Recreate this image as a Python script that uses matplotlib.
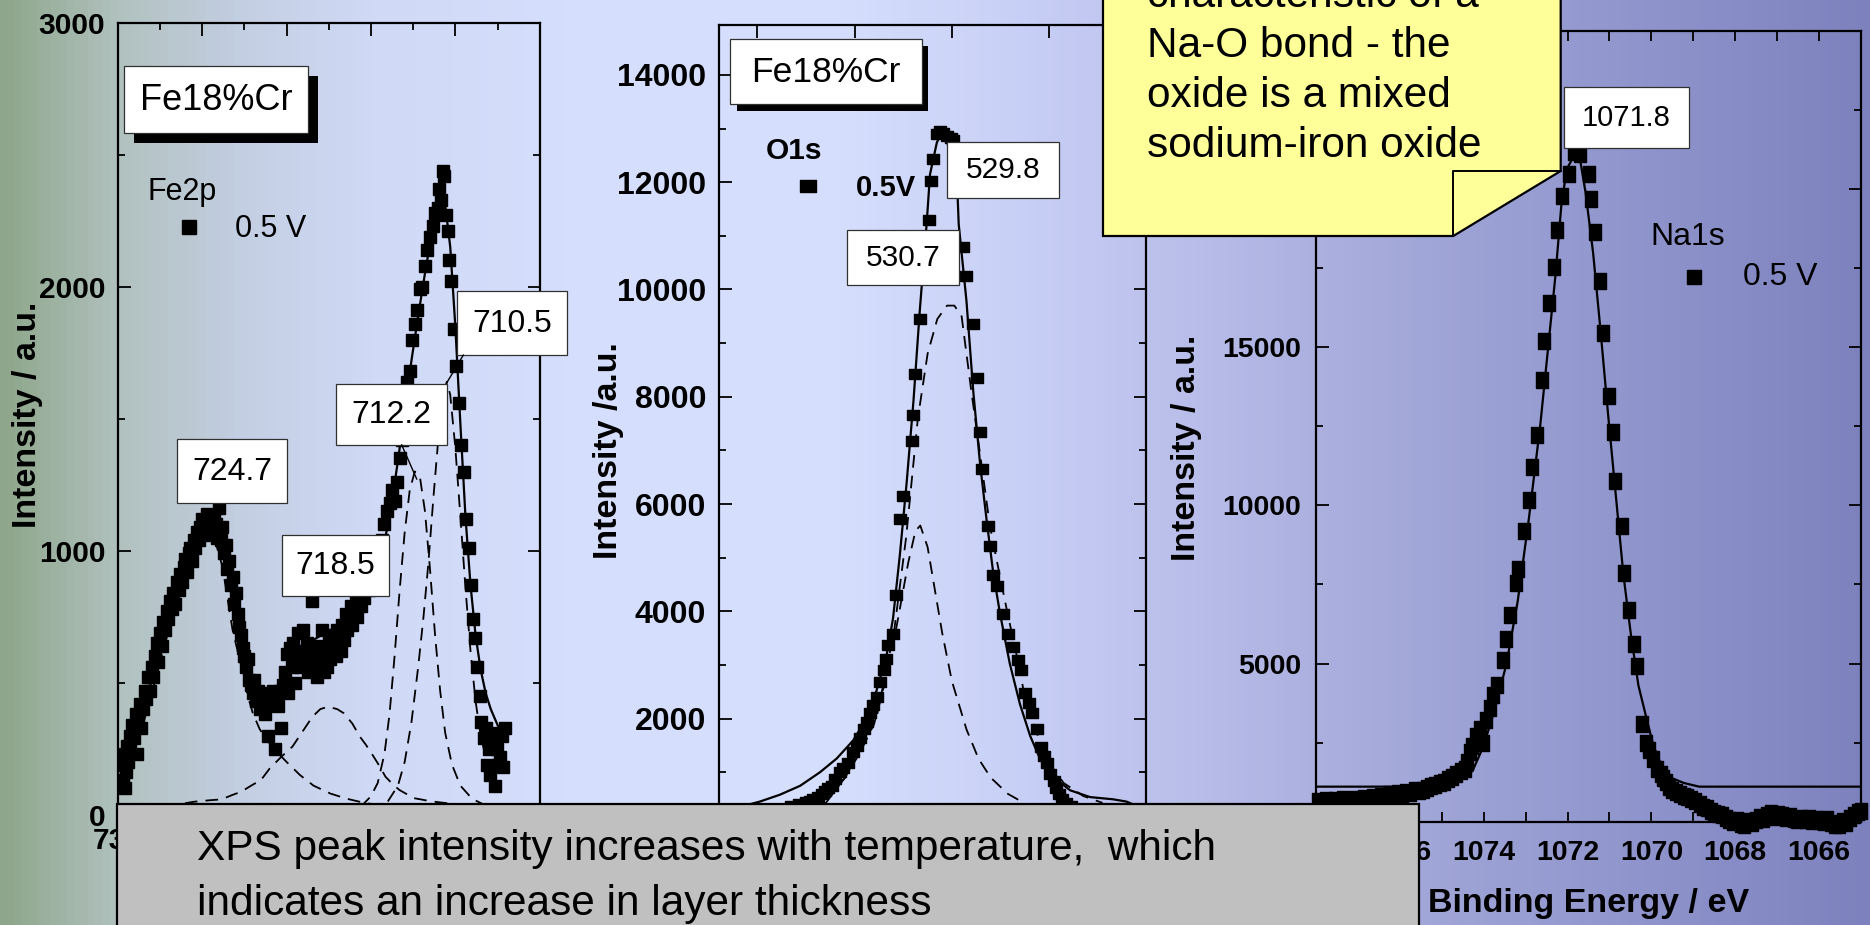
"""
XPS spectra of Fe18%Cr polarised at 0.5 V: Fe2p, O1s and Na1s regions.
"""


# %% ---- Requirements and constants

import numpy as np
import matplotlib
matplotlib.use("Agg")
import matplotlib.pyplot as plt
from matplotlib.colors import LinearSegmentedColormap
from matplotlib.patches import Rectangle, Polygon
from matplotlib.ticker import MultipleLocator

plt.rcParams["font.family"] = ["Liberation Sans", "DejaVu Sans"]

W, H = 1870, 925  # canvas in pixels

# Fe2p region: binding energy (eV), intensity (a.u.)
fe2p_points = np.array([
    [729.70, 130], [729.65, 190], [729.60, 100], [729.55, 230], [729.50, 160],
    [729.45, 260], [729.40, 200], [729.30, 300], [729.25, 240], [729.15, 340],
    [729.05, 290], [728.95, 380], [728.85, 230], [728.80, 350], [728.70, 420],
    [728.60, 330], [728.50, 400], [728.40, 470], [728.30, 440], [728.20, 520],
    [728.10, 470], [728.00, 560], [727.90, 520], [727.80, 600], [727.70, 650],
    [727.60, 580], [727.50, 690], [727.40, 640], [727.30, 730], [727.20, 700],
    [727.10, 770], [727.00, 740], [726.90, 810], [726.80, 780], [726.70, 840],
    [726.60, 800], [726.50, 880], [726.40, 850], [726.30, 910], [726.20, 880],
    [726.10, 940], [726.00, 970], [725.90, 920], [725.80, 990], [725.70, 1010],
    [725.60, 960], [725.50, 1040], [725.40, 1010], [725.30, 1070], [725.20, 1040],
    [725.10, 1090], [725.00, 1120], [724.90, 1060], [724.80, 1100], [724.70, 1140],
    [724.60, 1090], [724.50, 1120], [724.40, 1070], [724.30, 1130], [724.20, 1100],
    [724.10, 1050], [724.00, 1160], [723.90, 1040], [723.80, 1090], [723.70, 990],
    [723.60, 1020], [723.50, 930], [723.40, 960], [723.30, 870], [723.20, 900],
    [723.10, 800], [723.00, 840], [722.90, 760], [722.80, 710], [722.70, 680],
    [722.60, 630], [722.50, 600], [722.40, 560], [722.30, 590], [722.20, 510],
    [722.10, 490], [722.00, 460], [721.90, 510], [721.80, 430], [721.70, 470],
    [721.60, 400], [721.50, 450], [721.40, 420], [721.30, 380], [721.20, 460],
    [721.10, 300], [721.00, 440], [720.90, 420], [720.80, 470], [720.70, 250],
    [720.60, 450], [720.50, 410], [720.40, 470], [720.30, 330], [720.20, 490],
    [720.10, 540], [720.00, 610], [719.90, 460], [719.80, 630], [719.70, 560],
    [719.60, 650], [719.50, 500], [719.40, 600], [719.30, 690], [719.20, 560],
    [719.10, 620], [719.00, 700], [718.90, 580], [718.80, 650], [718.70, 540],
    [718.60, 620], [718.50, 810], [718.40, 560], [718.30, 600], [718.20, 520],
    [718.10, 640], [718.00, 580], [717.90, 700], [717.80, 540], [717.70, 620],
    [717.60, 560], [717.50, 660], [717.40, 590], [717.30, 640], [717.20, 680],
    [717.10, 600], [717.00, 700], [716.90, 650], [716.80, 620], [716.70, 720],
    [716.60, 660], [716.50, 760], [716.40, 700], [716.30, 740], [716.20, 790],
    [716.10, 720], [716.00, 770], [715.90, 810], [715.80, 750], [715.70, 830],
    [715.60, 790], [715.50, 860], [715.40, 820], [715.30, 880], [715.20, 900],
    [715.10, 850], [715.00, 920], [714.90, 880], [714.80, 950], [714.65, 990],
    [714.50, 1000], [714.35, 1040], [714.20, 1100], [714.05, 1150], [713.90, 1180],
    [713.75, 1230], [713.60, 1190], [713.45, 1260], [713.30, 1350], [713.15, 1420],
    [713.00, 1560], [712.85, 1640], [712.70, 1680], [712.55, 1800], [712.40, 1860],
    [712.25, 1910], [712.10, 1990], [711.95, 2000], [711.80, 2080], [711.65, 2140],
    [711.50, 2190], [711.35, 2230], [711.20, 2280], [711.05, 2300], [710.95, 2370],
    [710.85, 2330], [710.75, 2440], [710.65, 2420], [710.55, 2270], [710.45, 2210],
    [710.35, 2100], [710.25, 2020], [710.10, 1840], [709.95, 1700], [709.80, 1560],
    [709.65, 1400], [709.50, 1300], [709.35, 1120], [709.20, 1010], [709.05, 870],
    [708.95, 740], [708.85, 670], [708.70, 560], [708.55, 450], [708.45, 350],
    [708.30, 290], [708.20, 330], [708.10, 190], [708.00, 250], [707.95, 150],
    [707.85, 310], [707.75, 280], [707.65, 110], [707.55, 250], [707.45, 190],
    [707.35, 220], [707.25, 300], [707.15, 180], [707.05, 330],
])

fe2p_fit = np.array([
    [729.75, 150], [729.2, 250], [728.7, 350], [728.2, 460], [727.7, 580],
    [727.2, 700], [726.7, 810], [726.2, 910], [725.7, 990], [725.2, 1060],
    [724.8, 1095], [724.5, 1105], [724.2, 1085], [723.8, 1010], [723.4, 900],
    [723.0, 780], [722.6, 650], [722.2, 540], [721.8, 470], [721.4, 440],
    [721.0, 440], [720.6, 465], [720.2, 510], [719.8, 555], [719.4, 595],
    [719.0, 630], [718.6, 655], [718.2, 670], [717.8, 685], [717.4, 700],
    [717.0, 715], [716.6, 730], [716.2, 750], [715.8, 775], [715.4, 805],
    [715.0, 850], [714.6, 920], [714.2, 1030], [713.8, 1170], [713.4, 1340],
    [713.0, 1530], [712.6, 1720], [712.2, 1890], [711.8, 2050], [711.4, 2200],
    [711.1, 2300], [710.85, 2350], [710.6, 2310], [710.3, 2150], [710.0, 1850],
    [709.7, 1480], [709.4, 1130], [709.1, 870], [708.8, 680], [708.5, 550],
    [708.2, 460], [707.9, 400], [707.5, 340], [707.1, 290],
])

fe2p_peak_7247 = np.array([
    [729.75, 110], [729.2, 210], [728.7, 300], [728.2, 410], [727.7, 530],
    [727.2, 650], [726.7, 760], [726.2, 860], [725.7, 940], [725.2, 1010],
    [724.8, 1045], [724.5, 1050], [724.2, 1030], [723.8, 940], [723.5, 820],
    [723.2, 700], [722.9, 620], [722.6, 540], [722.3, 450], [722.0, 385],
    [721.6, 325], [721.2, 285], [720.6, 240], [720.0, 200], [719.2, 150],
    [718.4, 110], [717.4, 80], [716.4, 60], [715.4, 45], [714.4, 35],
])

fe2p_peak_7185 = np.array([
    [729.7, 25], [728.0, 30], [726.5, 38], [725.5, 49], [724.5, 55],
    [723.86, 58], [723.2, 75], [722.69, 87], [722.1, 110], [721.52, 131],
    [721.0, 175], [720.3, 220], [719.65, 258], [719.0, 320], [718.47, 371],
    [718.0, 400], [717.54, 409], [717.0, 400], [716.6, 384], [716.1, 345],
    [715.66, 296], [715.3, 265], [714.96, 232], [714.5, 185], [714.14, 144],
    [713.7, 115], [713.32, 94], [712.8, 75], [712.39, 62], [711.8, 55],
    [711.21, 49], [710.0, 40], [708.5, 30], [707.0, 25],
])

fe2p_peak_7122 = np.array([
    [715.6, 30], [715.0, 70], [714.6, 120], [714.2, 230], [713.9, 380],
    [713.6, 600], [713.3, 850], [713.0, 1070], [712.7, 1230], [712.4, 1300],
    [712.1, 1280], [711.8, 1150], [711.5, 930], [711.2, 680], [710.9, 470],
    [710.6, 310], [710.2, 190], [709.7, 110], [709.0, 60], [708.2, 35],
    [707.2, 20],
])

fe2p_peak_7105 = np.array([
    [714.0, 50], [713.4, 110], [713.0, 200], [712.6, 350], [712.2, 560],
    [711.9, 740], [711.6, 950], [711.3, 1200], [711.0, 1430], [710.7, 1600],
    [710.5, 1640], [710.3, 1590], [710.0, 1390], [709.7, 1130], [709.4, 860],
    [709.1, 620], [708.8, 430], [708.5, 300], [708.1, 190], [707.6, 110],
    [707.1, 70],
])

# O1s region
o1s_points = np.array([
    [533.30, 380], [533.15, 410], [533.00, 440], [532.92, 470], [532.85, 500],
    [532.75, 540], [532.68, 600], [532.61, 660], [532.54, 700], [532.47, 750],
    [532.40, 880], [532.30, 1000], [532.23, 1090], [532.13, 1170], [532.03, 1380],
    [531.95, 1500], [531.89, 1640], [531.80, 1800], [531.75, 1930], [531.69, 2100],
    [531.62, 2250], [531.55, 2400], [531.47, 2690], [531.40, 2900], [531.36, 3110],
    [531.31, 3370], [531.21, 3580], [531.14, 4300], [531.07, 5730], [531.00, 6150],
    [530.83, 7170], [530.80, 7670], [530.76, 8430], [530.66, 9450], [530.55, 10600],
    [530.48, 11300], [530.42, 12020], [530.38, 12440], [530.31, 12900], [530.25, 12950],
    [530.18, 12920], [530.10, 12870], [530.02, 12820], [529.97, 12780], [529.88, 12000],
    [529.77, 10800], [529.70, 10250], [529.56, 9360], [529.49, 8350], [529.42, 7340],
    [529.39, 6660], [529.25, 5600], [529.22, 5220], [529.15, 4680], [529.08, 4470],
    [528.94, 3960], [528.84, 3580], [528.74, 3330], [528.65, 3100], [528.57, 2900],
    [528.50, 2480], [528.42, 2300], [528.36, 2100], [528.26, 1810], [528.16, 1470],
    [528.10, 1300], [528.05, 1170], [527.98, 960], [527.90, 830], [527.85, 710],
    [527.80, 600], [527.74, 500], [527.65, 420], [527.55, 380],
])

o1s_fit = np.array([
    [534.8, 250], [533.95, 455], [533.54, 582], [533.12, 750], [532.71, 1004],
    [532.37, 1257], [532.03, 1595], [531.75, 2017], [531.55, 2523], [531.34, 3198],
    [531.21, 3874], [531.07, 5056], [530.93, 6406], [530.79, 7926], [530.66, 9614],
    [530.52, 11218], [530.45, 12147], [530.31, 12738], [530.18, 12991], [530.01, 12865],
    [529.90, 12147], [529.86, 11218], [529.70, 9783], [529.56, 8095], [529.42, 6744],
    [529.29, 5731], [529.15, 4718], [529.01, 3958], [528.81, 3029], [528.60, 2270],
    [528.39, 1679], [528.19, 1257], [527.92, 919], [527.57, 666], [527.16, 539],
    [526.68, 497], [526.41, 455], [526.0, 300],
])

o1s_peak_5307 = np.array([
    [532.6, 500], [532.2, 900], [531.9, 1350], [531.6, 1900], [531.3, 2950],
    [531.1, 3900], [530.9, 4900], [530.75, 5500], [530.65, 5600], [530.5, 5200],
    [530.35, 4400], [530.2, 3600], [530.0, 2700], [529.7, 1800], [529.45, 1250],
    [529.2, 900], [528.85, 600], [528.5, 420],
])

o1s_peak_5298 = np.array([
    [532.6, 420], [532.2, 900], [531.9, 1400], [531.54, 2060], [531.19, 3620],
    [530.94, 5390], [530.7, 7600], [530.5, 8800], [530.3, 9450], [530.1, 9700],
    [529.95, 9700], [529.8, 9500], [529.6, 8100], [529.4, 6800], [529.22, 5600],
    [529.0, 4600], [528.85, 3940], [528.6, 2900], [528.48, 2280], [528.2, 1600],
    [528.0, 1170], [527.7, 800], [527.3, 560], [526.9, 430],
])

# Na1s region
na1s_points = np.array([
    [1077.95, 640], [1077.85, 600], [1077.75, 680], [1077.65, 620], [1077.55, 700],
    [1077.45, 650], [1077.35, 720], [1077.25, 680], [1077.15, 600], [1077.05, 720],
    [1076.95, 690], [1076.85, 760], [1076.75, 700], [1076.65, 790], [1076.55, 740],
    [1076.45, 820], [1076.35, 780], [1076.25, 860], [1076.15, 830], [1076.05, 900],
    [1075.95, 870], [1075.85, 940], [1075.75, 910], [1075.65, 990], [1075.55, 960],
    [1075.45, 1010], [1075.35, 1060], [1075.25, 1120], [1075.15, 1150], [1075.05, 1220],
    [1074.95, 1270], [1074.85, 1350], [1074.75, 1420], [1074.65, 1520], [1074.55, 1600],
    [1074.45, 1670], [1074.40, 1900], [1074.32, 2200], [1074.27, 2400], [1074.18, 2700],
    [1074.09, 2920], [1074.02, 2500], [1073.95, 3210], [1073.86, 3580], [1073.77, 4020],
    [1073.68, 4310], [1073.55, 5120], [1073.46, 5780], [1073.37, 6520], [1073.23, 7550],
    [1073.19, 7990], [1073.03, 9190], [1072.92, 10160], [1072.85, 11220], [1072.74, 12220],
    [1072.62, 13970], [1072.56, 15190], [1072.45, 16400], [1072.33, 17540], [1072.24, 18720],
    [1072.13, 19780], [1071.97, 20480], [1071.84, 21190], [1071.70, 21100], [1071.50, 20480],
    [1071.43, 19680], [1071.34, 18650], [1071.23, 17100], [1071.16, 15440], [1071.01, 13460],
    [1070.92, 12320], [1070.86, 10780], [1070.71, 9360], [1070.65, 7870], [1070.53, 6690],
    [1070.41, 5610], [1070.35, 4930], [1070.23, 3090], [1070.14, 2480], [1070.05, 2260],
    [1069.95, 1990], [1069.86, 1670], [1069.78, 1500], [1069.72, 1370], [1069.65, 1250],
    [1069.59, 1110], [1069.50, 1000], [1069.41, 930], [1069.32, 870], [1069.23, 820],
    [1069.14, 790], [1069.05, 720], [1068.95, 670], [1068.85, 560], [1068.77, 480],
    [1068.68, 420], [1068.58, 330], [1068.50, 260], [1068.41, 230], [1068.32, 200],
    [1068.23, 120], [1068.14, 60], [1068.05, -20], [1067.95, 40], [1067.86, -60],
    [1067.78, -100], [1067.69, 20], [1067.60, -40], [1067.51, 50], [1067.42, 150],
    [1067.33, 80], [1067.24, 200], [1067.15, 270], [1067.06, 160], [1066.97, 230],
    [1066.88, 200], [1066.79, 120], [1066.70, 180], [1066.61, 90], [1066.52, 50],
    [1066.43, 130], [1066.34, 60], [1066.25, 120], [1066.16, 30], [1066.07, 90],
    [1065.98, 10], [1065.89, -20], [1065.80, 70], [1065.71, -50], [1065.62, -100],
    [1065.53, -90], [1065.44, 20], [1065.35, -30], [1065.26, 120], [1065.17, 200],
    [1065.08, 300], [1065.00, 340],
])

na1s_fit = np.array([
    [1078.0, 1108], [1075.53, 1108], [1075.08, 1226], [1074.63, 1373], [1074.27, 1594],
    [1074.0, 2402], [1073.73, 3578], [1073.46, 4975], [1073.19, 6959], [1072.92, 9605],
    [1072.65, 12545], [1072.47, 14897], [1072.29, 17249], [1072.15, 19454], [1072.02, 20630],
    [1071.84, 21071], [1071.70, 20924], [1071.57, 19895], [1071.39, 17984], [1071.21, 15485],
    [1071.03, 12839], [1070.85, 10340], [1070.67, 7841], [1070.49, 5930], [1070.31, 4313],
    [1070.12, 3284], [1069.95, 2402], [1069.77, 1814], [1069.50, 1373], [1069.23, 1226],
    [1068.86, 1108], [1065.0, 1108],
])


# %% ---- Function and class

def px_rect(left, top, right, bottom):
    """Pixel box (origin top-left) -> figure fraction rect."""
    return [left / W, 1 - bottom / H, (right - left) / W, (bottom - top) / H]


def add_panel(fig, rect, xlim, ylim):
    ax = fig.add_axes(px_rect(*rect), zorder=1)
    ax.set_facecolor("none")
    ax.set_xlim(*xlim)
    ax.set_ylim(*ylim)
    for s in ax.spines.values():
        s.set_linewidth(1.6)
    ax.tick_params(which="both", direction="in", top=True, right=True, width=1.3)
    ax.tick_params(which="major", length=9)
    ax.tick_params(which="minor", length=5)
    return ax


def set_ticks(ax, xt, xminor, yt, yminor, size, xpad, ypad, xshow=None, yshow=None):
    """Bold tick labels; xshow / yshow keep only the labels left uncovered."""
    xlab = [f"{v:g}" if xshow is None or v in xshow else "" for v in xt]
    ylab = [f"{v:g}" if yshow is None or v in yshow else "" for v in yt]
    ax.set_xticks(xt)
    ax.set_xticklabels(xlab, fontsize=size, fontweight="bold")
    ax.set_yticks(yt)
    ax.set_yticklabels(ylab, fontsize=size, fontweight="bold")
    if xminor:
        ax.xaxis.set_minor_locator(MultipleLocator(xminor))
    ax.yaxis.set_minor_locator(MultipleLocator(yminor))
    ax.tick_params(axis="x", which="both", pad=xpad)
    ax.tick_params(axis="y", which="both", pad=ypad)


def set_ylabel(ax, text, fx, fy):
    ax.set_ylabel(text, fontsize=24.5, fontweight="bold")
    ax.yaxis.label.set_verticalalignment("center")
    ax.yaxis.set_label_coords(fx, fy)


def label_box(ov, left, top, right, bottom, text, size, shadow=0, base=8.5):
    if shadow:
        ov.add_patch(Rectangle((left + shadow, top + shadow), right - left,
                               bottom - top, fc="black", ec="none"))
    ov.add_patch(Rectangle((left, top), right - left, bottom - top,
                           fc="white", ec="#303030", lw=0.9))
    ov.text((left + right) / 2, (top + bottom) / 2 + base, text,
            ha="center", va="baseline", fontsize=size)


dash = (0, (7, 4.5))
rect_wide = [(-0.6, -0.5), (0.6, -0.5), (0.6, 0.5), (-0.6, 0.5), (-0.6, -0.5)]
rect_tall = [(-0.42, -0.5), (0.42, -0.5), (0.42, 0.5), (-0.42, 0.5), (-0.42, -0.5)]


# %% ---- Play ground

fig = plt.figure(figsize=(W / 100, H / 100), dpi=100)

# slide background, sage green on the left fading to light blue then violet
bg_cmap = LinearSegmentedColormap.from_list("slide", [
    (0.00, "#8ea68b"), (0.064, "#b2c2c0"), (0.13, "#c4cfe4"), (0.20, "#d0d9f5"),
    (0.30, "#d5defc"), (0.45, "#d5defc"), (0.55, "#c8cff6"), (0.62, "#bcc1ec"),
    (0.70, "#acb1e0"), (0.80, "#9ba0d4"), (0.90, "#8c91ca"), (1.00, "#7d82be"),
])
bg = fig.add_axes([0, 0, 1, 1], zorder=-10)
bg.imshow(np.linspace(0, 1, 512)[None, :], cmap=bg_cmap, aspect="auto",
          extent=[0, 1, 0, 1])
bg.axis("off")

# Fe2p
ax1 = add_panel(fig, (117.8, 22.7, 539.7, 814.7), (730, 705), (0, 3000))
set_ticks(ax1, [730, 725, 720, 715, 710, 705], 2.5, [0, 1000, 2000, 3000], 500,
          21.5, 8.6, 9.0, xshow=[730])
set_ylabel(ax1, "Intensity / a.u.", -0.2136, 0.5047)
for comp in (fe2p_peak_7247, fe2p_peak_7185, fe2p_peak_7122, fe2p_peak_7105):
    ax1.plot(comp[:, 0], comp[:, 1], color="black", lw=1.3, ls=dash)
ax1.plot(fe2p_fit[:, 0], fe2p_fit[:, 1], color="black", lw=1.6)
ax1.plot(fe2p_points[:, 0], fe2p_points[:, 1], ls="none", marker="s", ms=8,
         color="black")

# O1s
ax2 = add_panel(fig, (718.5, 25, 1146.4, 826), (534.8, 526.0), (0, 14930))
set_ticks(ax2, [534, 532, 530, 528, 526], None, list(range(0, 14001, 2000)), 1000,
          23, 9.0, 8.8, xshow=[], yshow=list(range(2000, 14001, 2000)))
set_ylabel(ax2, "Intensity /a.u.", -0.257, 0.4688)
for comp in (o1s_peak_5307, o1s_peak_5298):
    ax2.plot(comp[:, 0], comp[:, 1], color="black", lw=1.3, ls=dash)
ax2.plot(o1s_fit[:, 0], o1s_fit[:, 1], color="black", lw=1.6)
ax2.plot(o1s_points[:, 0], o1s_points[:, 1], ls="none", marker=rect_wide, ms=8.8,
         color="black")

# Na1s
ax3 = add_panel(fig, (1316, 31, 1861, 821.7), (1078, 1065), (0, 25000))
set_ticks(ax3, list(range(1078, 1065, -2)), 1, list(range(0, 25001, 5000)), 2500,
          20.5, 13.0, 10.8, xshow=list(range(1076, 1065, -2)),
          yshow=[5000, 10000, 15000])
ax3.tick_params(axis="x", which="both", length=7)
set_ylabel(ax3, "Intensity / a.u.", -0.2385, 0.4733)
ax3.set_xlabel("Binding Energy / eV", fontsize=24.5, fontweight="bold")
ax3.xaxis.label.set_verticalalignment("center")
ax3.xaxis.set_label_coords(0.5, -0.103)
ax3.plot(na1s_fit[:, 0], na1s_fit[:, 1], color="black", lw=1.6)
ax3.plot(na1s_points[:, 0], na1s_points[:, 1], ls="none", marker=rect_tall, ms=11,
         color="black", clip_on=False)

# overlay in pixel coordinates: labels, legends, note and caption
ov = fig.add_axes([0, 0, 1, 1], zorder=10)
ov.set_xlim(0, W)
ov.set_ylim(H, 0)
ov.axis("off")

label_box(ov, 123.8, 65.7, 308.4, 133.3, "Fe18%Cr", 26, shadow=10, base=10)
label_box(ov, 730.4, 39, 921.8, 104, "Fe18%Cr", 25.5, shadow=6.5, base=10)

ov.plot([446.7, 463.3], [382.9, 355.1], color="black", lw=1.0)
ov.plot([401.7, 416.7], [444.9, 479.0], color="black", lw=1.0)
label_box(ov, 176.7, 439, 287.3, 503.3, "724.7", 23)
label_box(ov, 281.5, 535, 388.7, 596, "718.5", 23)
label_box(ov, 336, 383.8, 447.3, 444.9, "712.2", 23)
label_box(ov, 456.7, 291, 567.4, 355, "710.5", 23)
label_box(ov, 946.6, 141.7, 1059, 198.3, "529.8", 21.5)
label_box(ov, 846.7, 230, 958.9, 285, "530.7", 21.5)
label_box(ov, 1564, 87, 1689, 148, "1071.8", 21)

# legends
ov.text(148, 200, "Fe2p", fontsize=22, va="baseline")
ov.plot([189], [226.5], marker="s", ms=10.5, color="black")
ov.text(235, 237.3, "0.5 V", fontsize=22, va="baseline")

ov.text(765.6, 159.3, "O1s", fontsize=21.5, fontweight="bold", va="baseline")
ov.plot([807.5], [186.3], marker=rect_wide, ms=11, color="black")
ov.text(856, 196, "0.5V", fontsize=21, fontweight="bold", va="baseline")

ov.text(1650, 245, "Na1s", fontsize=23, va="baseline")
ov.plot([1693.5], [276.7], marker="s", ms=10.5, color="black")
ov.text(1743, 285, "0.5 V", fontsize=23, va="baseline")

# yellow note with folded corner
ov.add_patch(Polygon([(1103, -50), (1560.7, -50), (1560.7, 171), (1453.3, 236),
                      (1103, 236)], closed=True, fc="#ffff99", ec="black", lw=1.6))
ov.plot([1453.3, 1453.3, 1560.7], [236, 171, 171], color="black", lw=1.4)
note_lines = ["characteristic of a", "Na-O bond - the", "oxide is a mixed",
              "sodium-iron oxide"]
for i, line in enumerate(note_lines):
    ov.text(1146.7, 6.7 + 50 * i, line, fontsize=30.5, va="baseline")

# caption box
ov.add_patch(Rectangle((116.5, 803.5), 1302.5, 140, fc="#c0c0c0", ec="black", lw=1.6))
ov.text(196.8, 860, "XPS peak intensity increases with temperature,  which",
        fontsize=30.5, va="baseline")
ov.text(196.8, 915, "indicates an increase in layer thickness",
        fontsize=30.5, va="baseline")

fig.savefig("out.png", dpi=100)
